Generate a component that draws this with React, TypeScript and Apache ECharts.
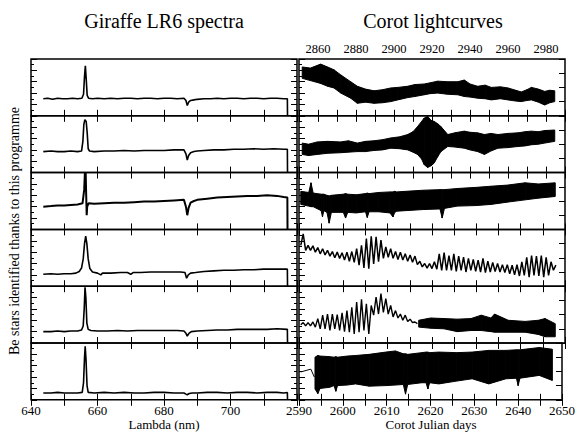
import React, { useEffect, useRef } from "react";
import * as echarts from "echarts";

// ---------- Left column: Giraffe LR6 spectra (lambda nm, normalised flux per panel) ----------
const SPEC1: number[][] = [[643.7,0.30],[645,0.31],[646.5,0.29],[648,0.31],[649.5,0.30],[651,0.30],[652.5,0.31],[654,0.30],[655.3,0.31],[655.8,0.38],[656.1,0.70],[656.35,0.88],[656.6,0.65],[656.9,0.36],[657.3,0.31],[658.5,0.30],[660,0.31],[662,0.30],[664,0.31],[666,0.30],[668,0.31],[670,0.31],[672,0.30],[674,0.31],[676,0.31],[678,0.30],[680,0.31],[682,0.31],[684,0.30],[686,0.31],[686.6,0.27],[687.0,0.18],[687.4,0.24],[688,0.27],[689,0.28],[690,0.29],[692,0.30],[694,0.30],[696,0.31],[698,0.30],[700,0.31],[702,0.31],[704,0.30],[706,0.31],[708,0.31],[710,0.30],[712,0.31],[714,0.31],[716,0.30],[717.1,0.30],[717.15,0]];
const SPEC2: number[][] = [[643.7,0.37],[646,0.38],[648,0.37],[650,0.37],[652,0.38],[654,0.37],[655.2,0.38],[655.6,0.55],[655.9,0.85],[656.2,0.93],[656.6,0.90],[656.9,0.70],[657.2,0.42],[657.6,0.38],[659,0.37],[662,0.38],[665,0.38],[668,0.39],[671,0.38],[674,0.39],[677,0.39],[680,0.39],[683,0.40],[686,0.40],[686.6,0.33],[687.0,0.22],[687.4,0.30],[688,0.35],[689,0.37],[690,0.38],[692,0.39],[695,0.40],[698,0.40],[701,0.41],[704,0.41],[707,0.42],[710,0.41],[713,0.42],[716,0.41],[717.1,0.41],[717.15,0]];
const SPEC3: number[][] = [[643.7,0.40],[646,0.41],[648,0.42],[650,0.42],[652,0.43],[654,0.44],[655.5,0.46],[656.0,0.70],[656.2,0.99],[656.45,0.99],[656.6,0.60],[656.75,0.25],[656.9,0.40],[657.3,0.46],[659,0.45],[662,0.46],[665,0.47],[668,0.47],[671,0.48],[674,0.49],[677,0.49],[680,0.50],[683,0.51],[686,0.52],[686.6,0.40],[687.0,0.25],[687.4,0.38],[688,0.47],[689,0.50],[690,0.52],[693,0.54],[696,0.56],[699,0.57],[702,0.58],[705,0.59],[708,0.59],[711,0.60],[714,0.59],[716,0.57],[717.1,0.56],[717.15,0]];
const SPEC4: number[][] = [[643.7,0.21],[646,0.22],[648,0.21],[650,0.22],[652,0.22],[653.5,0.23],[654.5,0.26],[655.2,0.32],[655.7,0.48],[656.1,0.75],[656.45,0.88],[656.8,0.75],[657.2,0.48],[657.7,0.31],[658.5,0.25],[660,0.23],[661,0.20],[661.5,0.23],[664,0.23],[667,0.24],[669,0.24],[670,0.21],[670.7,0.24],[673,0.24],[676,0.25],[679,0.25],[682,0.25],[685,0.25],[686.3,0.24],[686.8,0.14],[687.3,0.20],[688,0.23],[689.5,0.24],[692,0.26],[695,0.27],[698,0.28],[701,0.28],[704,0.29],[707,0.29],[710,0.30],[713,0.30],[716,0.30],[717.1,0.30],[717.15,0]];
const SPEC5: number[][] = [[643.7,0.20],[646,0.20],[648,0.21],[650,0.20],[652,0.21],[654,0.21],[655.2,0.23],[655.7,0.30],[656.0,0.60],[656.25,0.98],[656.5,0.80],[656.8,0.35],[657.2,0.24],[658,0.22],[660,0.21],[663,0.21],[666,0.22],[669,0.21],[672,0.22],[675,0.22],[678,0.22],[681,0.22],[684,0.22],[686,0.21],[686.6,0.17],[687.0,0.12],[687.5,0.17],[688.2,0.20],[690,0.21],[693,0.22],[696,0.23],[699,0.23],[702,0.24],[705,0.24],[708,0.24],[711,0.24],[714,0.25],[717.1,0.24],[717.15,0]];
const SPEC6: number[][] = [[643.7,0.12],[646,0.12],[648,0.13],[650,0.12],[652,0.12],[654,0.12],[655.4,0.13],[655.8,0.30],[656.1,0.75],[656.3,0.94],[656.55,0.70],[656.85,0.25],[657.2,0.13],[659,0.12],[662,0.13],[665,0.12],[668,0.13],[671,0.12],[674,0.12],[677,0.13],[680,0.13],[683,0.12],[686,0.12],[686.6,0.10],[687.0,0.09],[687.6,0.11],[688.5,0.12],[690,0.12],[693,0.13],[696,0.13],[699,0.12],[702,0.13],[705,0.13],[708,0.12],[711,0.13],[714,0.13],[716,0.12],[717.1,0.13],[717.15,0]];

// ---------- Right column: CoRoT light curves (envelopes of the dense noisy curves) ----------
const R1_DAYS = [2851.7,2856,2861.4,2865,2868.4,2872,2877.2,2880.7,2885,2889.5,2894,2898.3,2902,2907.2,2911,2915.9,2919,2923,2928,2933.6,2937,2940,2944,2948,2951.2,2956,2960,2964,2967,2970,2972.3,2976,2979.3,2982,2984.6];
const R1_UP = [0.86,0.84,0.91,0.86,0.81,0.72,0.60,0.52,0.47,0.44,0.46,0.49,0.50,0.52,0.55,0.56,0.58,0.61,0.60,0.60,0.63,0.56,0.52,0.54,0.50,0.51,0.49,0.45,0.42,0.46,0.50,0.47,0.43,0.45,0.44];
const R1_LO = [0.66,0.62,0.57,0.52,0.49,0.40,0.31,0.22,0.24,0.22,0.23,0.25,0.28,0.32,0.34,0.37,0.39,0.40,0.38,0.37,0.34,0.33,0.31,0.30,0.28,0.30,0.28,0.26,0.25,0.27,0.28,0.24,0.19,0.23,0.25];

const R2_DAYS = [2851.7,2855,2859.6,2865,2871.9,2876,2880.7,2885,2889.5,2894,2898.3,2903,2907.2,2910,2912.4,2914.5,2915.9,2917.7,2919.5,2921.2,2923,2924.7,2928.3,2932,2937,2940,2944,2947.6,2951,2954.7,2960,2965.3,2969,2972.3,2976,2979.3,2984.6];
const R2_UP = [0.52,0.50,0.54,0.55,0.54,0.56,0.52,0.55,0.56,0.58,0.61,0.63,0.67,0.72,0.81,0.90,0.96,0.99,0.92,0.90,0.86,0.81,0.67,0.70,0.73,0.71,0.70,0.67,0.69,0.67,0.69,0.70,0.72,0.73,0.72,0.74,0.75];
const R2_LO = [0.32,0.30,0.32,0.34,0.35,0.36,0.37,0.37,0.39,0.40,0.43,0.42,0.40,0.36,0.32,0.24,0.14,0.09,0.12,0.17,0.28,0.37,0.46,0.45,0.43,0.40,0.37,0.32,0.38,0.43,0.44,0.46,0.47,0.49,0.50,0.52,0.55];

const R3_DAYS = [2590.4,2592.2,2592.7,2593.2,2595.0,2595.3,2595.6,2596.3,2596.8,2597.3,2600.0,2600.5,2601.0,2602.9,2605.0,2605.4,2605.8,2608,2610.5,2611.2,2611.6,2612,2614,2618.1,2621.8,2622.3,2622.8,2625.7,2630,2633.3,2637,2641,2644,2647.8];
const R3_UP = [0.67,0.65,0.82,0.64,0.62,0.62,0.62,0.60,0.59,0.60,0.62,0.63,0.62,0.61,0.63,0.64,0.63,0.65,0.66,0.66,0.67,0.66,0.67,0.69,0.70,0.70,0.70,0.72,0.74,0.76,0.78,0.82,0.80,0.82];
const R3_LO = [0.44,0.41,0.40,0.40,0.33,0.22,0.33,0.30,0.11,0.30,0.30,0.20,0.30,0.29,0.31,0.21,0.31,0.31,0.29,0.22,0.30,0.32,0.33,0.35,0.36,0.20,0.37,0.41,0.42,0.44,0.48,0.52,0.55,0.58];

// regularly sampled oscillating curves (alternating maxima / minima)
const OSC_T0 = 2590.4;
const OSC_DT = 0.548;
const R4_OSC = [0.72,0.92,0.63,0.72,0.63,0.71,0.60,0.68,0.57,0.66,0.55,0.63,0.53,0.61,0.50,0.60,0.49,0.59,0.46,0.60,0.44,0.61,0.42,0.66,0.37,0.72,0.32,0.84,0.31,0.88,0.39,0.87,0.43,0.81,0.49,0.69,0.51,0.66,0.49,0.61,0.47,0.60,0.46,0.57,0.44,0.55,0.42,0.53,0.38,0.44,0.34,0.40,0.32,0.40,0.31,0.43,0.30,0.57,0.28,0.59,0.28,0.54,0.28,0.57,0.26,0.53,0.28,0.51,0.25,0.49,0.28,0.47,0.26,0.46,0.25,0.49,0.24,0.44,0.25,0.42,0.26,0.40,0.25,0.38,0.24,0.38,0.22,0.37,0.20,0.38,0.18,0.43,0.19,0.51,0.16,0.54,0.19,0.53,0.18,0.54,0.16,0.51,0.19,0.43,0.28,0.37];
const R5_OSC = [0.32,0.36,0.30,0.36,0.30,0.37,0.28,0.43,0.25,0.49,0.25,0.51,0.22,0.51,0.25,0.50,0.22,0.53,0.20,0.57,0.19,0.63,0.16,0.72,0.19,0.77,0.22,0.69,0.16,0.66,0.49,0.81,0.51,0.87,0.54,0.78,0.51,0.66,0.46,0.57,0.44,0.51,0.40,0.49,0.38,0.42,0.36,0.37,0.34];
const R5_DAYS = [2617.0,2619.7,2622.7,2625.7,2628.8,2631.1,2633.3,2634.1,2637.2,2641,2644,2645.5,2647.8];
const R5_UP = [0.40,0.44,0.43,0.42,0.43,0.49,0.44,0.51,0.40,0.38,0.40,0.43,0.34];
const R5_LO = [0.28,0.26,0.25,0.20,0.22,0.22,0.20,0.19,0.19,0.19,0.15,0.11,0.11];

const R6_LEAD: number[][] = [[2590.4,0.49],[2592.7,0.54],[2593.5,0.40]];
const R6_DAYS = [2593.65,2594.3,2594.8,2597,2598,2598.4,2598.8,2601,2602.9,2606,2609.8,2612,2613.8,2614.3,2614.8,2618,2619,2619.4,2619.8,2621.9,2626,2629.5,2633.3,2637.2,2639.6,2640,2640.4,2644.8,2647.8];
const R6_UP = [0.75,0.78,0.77,0.76,0.75,0.76,0.75,0.77,0.78,0.80,0.84,0.86,0.81,0.81,0.80,0.83,0.84,0.84,0.83,0.84,0.83,0.84,0.87,0.87,0.88,0.88,0.88,0.92,0.89];
const R6_LO = [0.19,0.11,0.20,0.22,0.25,0.15,0.25,0.26,0.28,0.24,0.25,0.26,0.27,0.10,0.27,0.30,0.30,0.19,0.30,0.28,0.33,0.37,0.28,0.37,0.38,0.25,0.38,0.43,0.34];

// ---------- tick labels ----------
const LAMBDA_LABELS = [640, 660, 680, 700];
const JD_BOTTOM_LABELS = [2590, 2600, 2610, 2620, 2630, 2640, 2650];
const JD_TOP_LABELS = [2860, 2880, 2900, 2920, 2940, 2960, 2980];

const TITLE_LEFT = "Giraffe LR6 spectra";
const TITLE_RIGHT = "Corot lightcurves";
const XNAME_LEFT = "Lambda (nm)";
const XNAME_RIGHT = "Corot Julian days";
const YNAME = "Be stars identified thanks to this programme";

const FONT = "Liberation Serif";

export default function App() {
  const ref = useRef<HTMLDivElement>(null);
  useEffect(() => {
    if (!ref.current) return;
    const chart = echarts.init(ref.current, undefined, { renderer: "svg" });

    const TOP = 59;
    const H = 56.8;
    const LEFT_L = 31;
    const LEFT_R = 299;
    const W = 266;

    const grids: any[] = [];
    const xAxes: any[] = [];
    const yAxes: any[] = [];
    const series: any[] = [];

    const tick = { inside: true, length: 6, lineStyle: { color: "#000", width: 1 } };
    const labelStyle = { fontFamily: FONT, fontSize: 13, color: "#000" };

    const mkX = (g: number, pos: "top" | "bottom", min: number, max: number, interval: number, labels: number[] | null) => ({
      type: "value",
      gridIndex: g,
      position: pos,
      min,
      max,
      interval,
      axisLine: { show: false },
      axisTick: tick,
      splitLine: { show: false },
      axisLabel: labels
        ? {
            show: true,
            ...labelStyle,
            fontSize: pos === "top" ? 12.5 : 13,
            margin: 4,
            formatter: (v: number) => (labels.indexOf(Math.round(v)) >= 0 ? String(Math.round(v)) : ""),
          }
        : { show: false },
    });
    const mkY = (g: number, pos: "left" | "right", interval: number, minor: boolean) => ({
      type: "value",
      gridIndex: g,
      position: pos,
      min: 0,
      max: 1,
      interval,
      axisLine: { show: false },
      axisTick: tick,
      minorTick: { show: minor, splitNumber: 2, length: 3, lineStyle: { color: "#000", width: 1 } },
      splitLine: { show: false },
      minorSplitLine: { show: false },
      axisLabel: { show: false },
    });

    const specs = [SPEC1, SPEC2, SPEC3, SPEC4, SPEC5, SPEC6];

    // filled envelope of a dense noisy light curve, one quad per pair of samples
    const band = (g: number, days: number[], up: number[], lo: number[]) => {
      series.push({
        type: "custom",
        xAxisIndex: 2 * g,
        yAxisIndex: 2 * g,
        silent: true,
        clip: true,
        data: days.slice(0, -1).map((d, i) => [d, up[i], lo[i], days[i + 1], up[i + 1], lo[i + 1]]),
        encode: { x: [0, 3], y: [1, 2, 4, 5] },
        renderItem: (_p: any, api: any) => {
          const a = api.coord([api.value(0), api.value(1)]);
          const b = api.coord([api.value(3), api.value(4)]);
          const c = api.coord([api.value(3), api.value(5)]);
          const d = api.coord([api.value(0), api.value(2)]);
          return {
            type: "polygon",
            shape: { points: [a, b, c, d] },
            style: { fill: "#000", stroke: "#000", lineWidth: 1 },
          };
        },
      });
    };
    const line = (g: number, data: number[][], width: number) => {
      series.push({
        type: "line",
        xAxisIndex: 2 * g,
        yAxisIndex: 2 * g,
        symbol: "none",
        silent: true,
        lineStyle: { color: "#000", width },
        data,
      });
    };

    for (let r = 0; r < 6; r++) {
      const top = TOP + r * H;
      const gl = 2 * r;
      grids.push({ left: LEFT_L, top, width: W, height: H, show: true, borderColor: "#000", borderWidth: 1.5, backgroundColor: "transparent" });
      xAxes.push(mkX(gl, "bottom", 640, 720, 10, r === 5 ? LAMBDA_LABELS : null));
      xAxes.push(mkX(gl, "top", 640, 720, 10, null));
      yAxes.push(mkY(gl, "left", 0.2, true));
      yAxes.push(mkY(gl, "right", 0.2, true));
      line(gl, specs[r], r === 2 ? 2 : 1.6);

      const gr = 2 * r + 1;
      grids.push({ left: LEFT_R, top, width: W, height: H, show: true, borderColor: "#000", borderWidth: 1.5, backgroundColor: "transparent" });
      if (r < 2) {
        xAxes.push(mkX(gr, "bottom", 2850, 2990, 10, null));
        xAxes.push(mkX(gr, "top", 2850, 2990, 10, r === 0 ? JD_TOP_LABELS : null));
      } else {
        xAxes.push(mkX(gr, "bottom", 2590, 2650, 5, r === 5 ? JD_BOTTOM_LABELS : null));
        xAxes.push(mkX(gr, "top", 2590, 2650, 5, null));
      }
      yAxes.push(mkY(gr, "left", 0.2, true));
      yAxes.push(mkY(gr, "right", 0.25, false));
    }

    band(1, R1_DAYS, R1_UP, R1_LO);
    band(3, R2_DAYS, R2_UP, R2_LO);
    band(5, R3_DAYS, R3_UP, R3_LO);
    line(7, R4_OSC.map((v, i) => [OSC_T0 + i * OSC_DT, v]), 1.5);
    line(9, R5_OSC.map((v, i) => [OSC_T0 + i * OSC_DT, v]), 1.4);
    band(9, R5_DAYS, R5_UP, R5_LO);
    line(11, R6_LEAD, 1);
    band(11, R6_DAYS, R6_UP, R6_LO);

    const txt = (x: number, y: number, text: string, size: number, rot = 0) => ({
      type: "text",
      x,
      y,
      rotation: rot,
      style: {
        text,
        font: `${size}px "Liberation Serif", "DejaVu Serif", serif`,
        fontFamily: FONT,
        fontSize: size,
        fill: "#000",
        textAlign: "center",
        textVerticalAlign: "middle",
      },
    });

    chart.setOption({
      animation: false,
      backgroundColor: "#fff",
      grid: grids,
      xAxis: xAxes,
      yAxis: yAxes,
      series,
      graphic: [
        txt(164, 21, TITLE_LEFT, 20),
        txt(433, 21, TITLE_RIGHT, 20),
        txt(164, 424, XNAME_LEFT, 13),
        txt(431, 424, XNAME_RIGHT, 13),
        txt(14, 231, YNAME, 14, Math.PI / 2),
      ],
    });
    return () => chart.dispose();
  }, []);
  return <div ref={ref} style={{ position: "fixed", left: 0, top: 0, width: 578, height: 432, background: "#fff" }} />;
}
